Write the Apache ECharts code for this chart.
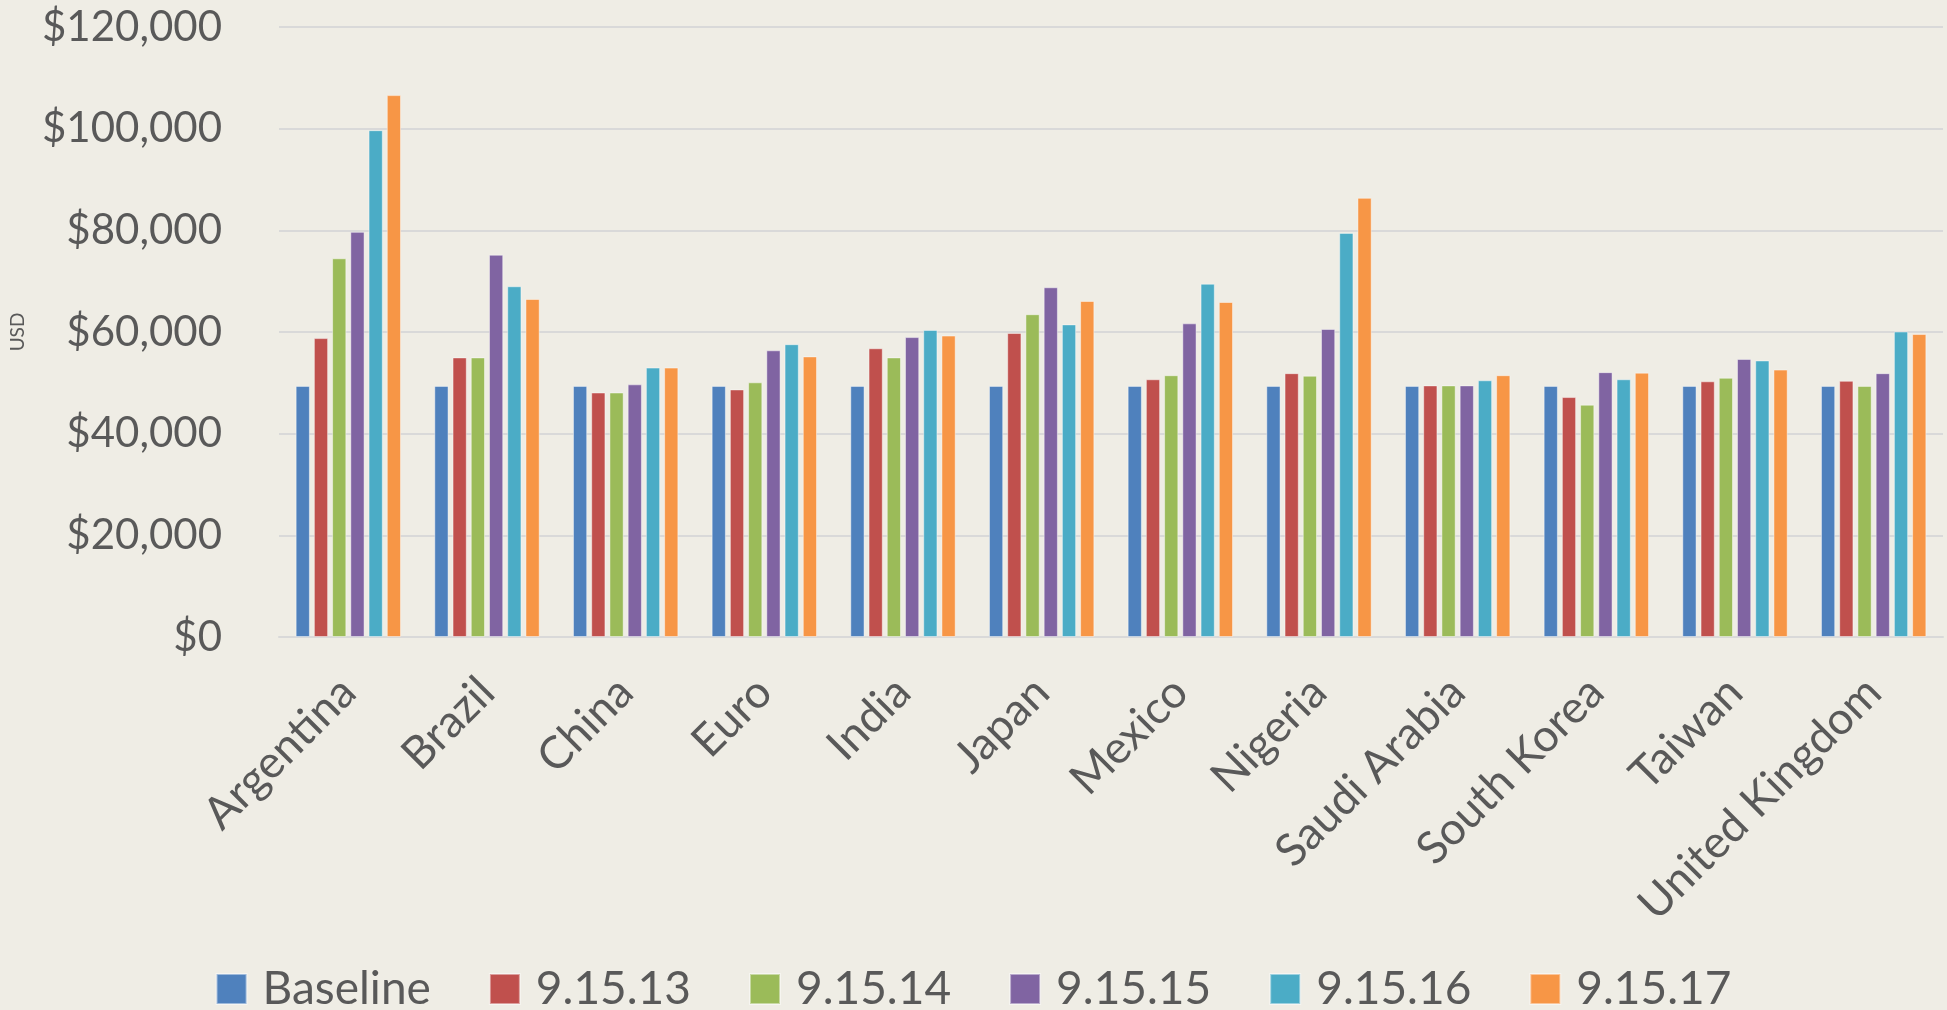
<!DOCTYPE html>
<html>
<head>
<meta charset="utf-8">
<title>USD by country</title>
<script src="https://cdn.jsdelivr.net/npm/echarts@6/dist/echarts.min.js"></script>
<style>
html,
body {
  margin: 0;
  padding: 0;
  background-color: #efede5;
}
#main {
  width: 1947px;
  height: 1010px;
}
</style>
</head>
<body>
<div id="main"></div>
<script>
// categories (x axis)
var countries = ["Argentina", "Brazil", "China", "Euro", "India", "Japan", "Mexico",
  "Nigeria", "Saudi Arabia", "South Korea", "Taiwan", "United Kingdom"];

// series values, USD
var baseline = [49400, 49400, 49400, 49400, 49400, 49400, 49400, 49400, 49400, 49400, 49400, 49400];
var v091513 = [58800, 55000, 48100, 48700, 56800, 59800, 50700, 51900, 49500, 47200, 50300, 50400];
var v091514 = [74500, 55000, 48100, 50100, 55000, 63500, 51500, 51400, 49500, 45700, 51000, 49400];
var v091515 = [79700, 75200, 49700, 56400, 59000, 68800, 61700, 60600, 49500, 52100, 54700, 51900];
var v091516 = [99700, 69000, 53000, 57600, 60400, 61500, 69500, 79500, 50500, 50700, 54400, 60100];
var v091517 = [106600, 66500, 53000, 55200, 59300, 66100, 65900, 86400, 51500, 52000, 52600, 59600];

var seriesNames = ["Baseline", "9.15.13", "9.15.14", "9.15.15", "9.15.16", "9.15.17"];
var seriesValues = [baseline, v091513, v091514, v091515, v091516, v091517];
var kcolor = ["#4f81bd", "#c0504d", "#9bbb59", "#8064a2", "#4bacc6", "#f79646"];

var textColor = "#595959";
var fontName = "Lato";

var seriesData = [];
for (var k = 0; k < seriesNames.length; k++) {
  seriesData.push({
    name: seriesNames[k],
    type: "bar",
    data: seriesValues[k],
    barGap: "28%",
    barCategoryGap: "24%",
    itemStyle: {
      color: kcolor[k],
      borderColor: "rgba(255,255,255,0.45)",
      borderWidth: 1
    }
  });
}

var myChart = echarts.init(document.getElementById("main"));
var option = {
  backgroundColor: "#efede5",
  animation: false,
  color: kcolor,
  textStyle: {
    fontFamily: fontName,
    color: textColor
  },
  grid: {
    left: 279,
    right: 4,
    top: 27,
    bottom: 373,
    containLabel: false
  },
  legend: {
    data: seriesNames,
    left: "center",
    top: 961,
    icon: "rect",
    itemWidth: 30,
    itemHeight: 30,
    itemGap: 58,
    textStyle: {
      fontFamily: fontName,
      fontSize: 46,
      lineHeight: 44,
      color: textColor,
      padding: [0, 0, 0, 11]
    }
  },
  xAxis: {
    type: "category",
    data: countries,
    axisLine: {
      lineStyle: { color: "#d9d9d9", width: 2 }
    },
    axisTick: { show: false },
    axisLabel: {
      interval: 0,
      rotate: 45,
      margin: 48,
      fontFamily: fontName,
      fontSize: 45,
      color: textColor,
      padding: [0, 0, 0, 0]
    }
  },
  yAxis: {
    type: "value",
    min: 0,
    max: 120000,
    interval: 20000,
    name: "USD",
    nameLocation: "middle",
    nameGap: 252,
    nameTextStyle: {
      fontFamily: fontName,
      fontSize: 19,
      color: textColor
    },
    axisLine: { show: false },
    axisTick: { show: false },
    splitLine: {
      lineStyle: { color: "#d9d9d9", width: 2 }
    },
    axisLabel: {
      margin: 57,
      fontFamily: fontName,
      fontSize: 42,
      color: textColor,
      formatter: function(value) {
        return "$" + String(value).replace(/\B(?=(\d{3})+(?!\d))/g, ",");
      }
    }
  },
  series: seriesData
};
myChart.setOption(option);
</script>
</body>
</html>
